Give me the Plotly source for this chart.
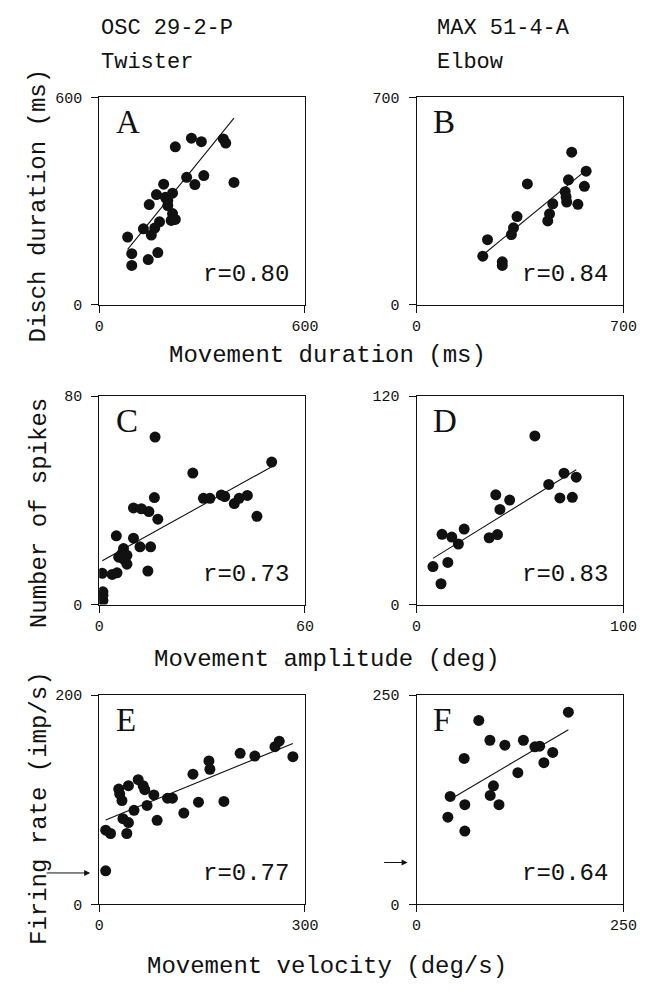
import plotly.graph_objects as go

# ---- Panel A: movement duration (ms) vs discharge duration (ms), OSC 29-2-P
A_x = [222, 269, 298, 362, 369, 305, 255, 279, 393, 188, 167, 214, 193, 146, 200,
       214, 210, 222, 176, 162, 129, 152, 83, 95, 143, 171, 95, 200]
A_y = [457, 482, 472, 480, 468, 374, 369, 348, 354, 349, 319, 323, 311, 290, 287,
       264, 244, 247, 240, 222, 220, 202, 196, 148, 131, 151, 114, 302]
A_fit = (1.224, 59.0)
A_r = "r=0.80"

# ---- Panel B: movement duration (ms) vs discharge duration (ms), MAX 51-4-A
B_x = [525, 574, 514, 375, 568, 503, 508, 546, 461, 450, 444, 340, 328, 321, 240,
       224, 290, 290, 506]
B_y = [515, 451, 422, 408, 400, 382, 347, 339, 341, 307, 283, 298, 260, 237, 220,
       164, 145, 133, 364]
B_fit = (0.819, -15.4)
B_r = "r=0.84"

# ---- Panel C: movement amplitude (deg) vs number of spikes
C_x = [16.3, 50.3, 27.3, 30.4, 32.3, 35.6, 36.6, 39.4, 40.8, 43.2, 46.0, 16.1, 10.0,
       12.3, 14.5, 17.1, 5.0, 10.0, 11.9, 15.0, 7.1, 6.6, 8.1, 7.1, 8.1, 5.7, 14.2,
       5.2, 3.8, 0.9, 1.1, 1.1, 1.1]
C_y = [64.3, 54.7, 50.5, 40.8, 40.8, 42.1, 41.5, 38.8, 40.8, 41.9, 33.9, 41.1, 37.1,
       36.8, 35.7, 32.8, 26.4, 25.5, 22.2, 22.2, 21.5, 19.5, 18.9, 17.5, 15.5, 18.2,
       12.9, 12.2, 11.6, 12.0, 4.9, 1.6, 3.6]
C_fit = (0.730, 16.2)
C_r = "r=0.73"

# ---- Panel D: movement amplitude (deg) vs number of spikes
D_x = [57.2, 71.3, 77.2, 63.9, 69.3, 75.3, 38.3, 45.0, 40.3, 35.1, 39.1, 12.3, 23.0,
       17.0, 20.2, 7.9, 15.1, 11.8]
D_y = [97.1, 75.7, 73.4, 69.2, 61.4, 61.8, 63.2, 60.2, 54.8, 38.5, 40.3, 40.5, 43.5,
       38.9, 34.9, 21.9, 24.3, 12.0]
D_fit = (0.737, 20.8)
D_r = "r=0.83"

# ---- Panel E: movement velocity (deg/s) vs firing rate (imp/s)
E_x = [9.5, 9.5, 16.6, 28.5, 29.9, 33.2, 42.7, 56.9, 64.1, 66.5, 79.7, 34.7, 42.7,
       40.3, 50.8, 69.8, 84.5, 99.7, 106.8, 123.4, 136.7, 144.8, 160.0, 161.4, 181.8,
       205.5, 226.9, 256.3, 262.5, 282.4]
E_y = [32.1, 70.9, 67.7, 110.2, 105.5, 99.2, 113.4, 119.1, 113.4, 109.6, 104.6, 81.9,
       78.1, 67.7, 89.8, 94.5, 80.3, 101.4, 101.4, 87.2, 124.4, 97.6, 137.0, 129.1,
       98.3, 144.3, 141.7, 150.6, 155.9, 141.1]
E_fit = (0.2677, 78.1)
E_r = "r=0.77"
E_baseline = 30

# ---- Panel F: movement velocity (deg/s) vs firing rate (imp/s)
F_x = [183.5, 75.2, 88.6, 106.7, 129.1, 143.0, 148.8, 164.6, 153.9, 57.5, 122.4, 92.9,
       89.0, 99.6, 40.6, 58.3, 37.8, 58.3]
F_y = [229.5, 219.6, 196.0, 190.1, 196.0, 188.1, 188.9, 181.4, 169.2, 174.3, 157.3,
       141.6, 130.1, 119.1, 128.9, 119.1, 104.1, 87.5]
F_fit = (0.582, 101.8)
F_r = "r=0.64"
F_baseline = 50

x_max = [600, 700, 60, 100, 300, 250]
y_max = [600, 700, 80, 120, 200, 250]
letters = ["A", "B", "C", "D", "E", "F"]

col_titles = [["OSC 29-2-P", "Twister"], ["MAX 51-4-A", "Elbow"]]
x_titles = ["Movement duration (ms)", "Movement amplitude (deg)", "Movement velocity (deg/s)"]
y_titles = ["Disch duration (ms)", "Number of spikes", "Firing rate (imp/s)"]

panels = [
    (A_x, A_y, A_fit, A_r, None),
    (B_x, B_y, B_fit, B_r, None),
    (C_x, C_y, C_fit, C_r, None),
    (D_x, D_y, D_fit, D_r, None),
    (E_x, E_y, E_fit, E_r, E_baseline),
    (F_x, F_y, F_fit, F_r, F_baseline),
]

# ---- page geometry (pixels)
W, H = 650, 993
COLS = [(97, 309), (424, 637)]
ROWS = [(92, 303), (396, 608), (700, 913)]
X_TITLE_Y = [355, 664, 976]
Y_TITLE_Y = [202, 515, 815]

def px(x):
    return x / W

def py(y):
    return 1 - y / H

MONO = "Liberation Mono"
SERIF = "Liberation Serif"
INK = "#111111"

fig = go.Figure()
annotations = []

for i, (xs, ys, fit, rtxt, base) in enumerate(panels):
    r, c = divmod(i, 2)
    n = i + 1
    xa = "x" if n == 1 else f"x{n}"
    ya = "y" if n == 1 else f"y{n}"
    x0p, x1p = COLS[c]
    y0p, y1p = ROWS[r]

    fig.add_trace(go.Scatter(
        x=xs, y=ys, mode="markers", xaxis=xa, yaxis=ya,
        marker=dict(size=11, color=INK, line=dict(width=0)),
        showlegend=False, hoverinfo="x+y",
    ))
    slope, icpt = fit
    lx = [min(xs), max(xs)]
    fig.add_trace(go.Scatter(
        x=lx, y=[slope * v + icpt for v in lx], mode="lines",
        xaxis=xa, yaxis=ya, line=dict(color=INK, width=1.1),
        showlegend=False, hoverinfo="skip",
    ))

    axis_common = dict(
        showline=True, linecolor=INK, linewidth=1, mirror=True,
        ticks="outside", ticklen=7, tickwidth=1, tickcolor=INK,
        showgrid=False, zeroline=False,
        tickfont=dict(family=MONO, size=15, color=INK),
    )
    fig.layout[f"xaxis{'' if n == 1 else n}"] = dict(
        axis_common, domain=[px(x0p), px(x1p)], anchor=ya,
        range=[0, x_max[i]], tickvals=[0, x_max[i]], ticklabelstandoff=0,
    )
    fig.layout[f"yaxis{'' if n == 1 else n}"] = dict(
        axis_common, domain=[py(y1p), py(y0p)], anchor=xa,
        range=[0, y_max[i]], tickvals=[0, y_max[i]], ticklabelstandoff=6,
    )

    # panel letter
    annotations.append(dict(
        text=letters[i], xref="paper", yref="paper",
        x=px(x0p + 15), y=py(y0p + 25), xanchor="left", yanchor="middle",
        showarrow=False, font=dict(family=SERIF, size=33, color=INK),
    ))
    # correlation coefficient
    annotations.append(dict(
        text=rtxt, xref="paper", yref="paper",
        x=px(x1p - 14), y=py(y1p - 31), xanchor="right", yanchor="middle",
        showarrow=False, font=dict(family=MONO, size=24, color=INK),
    ))
    # baseline firing-rate arrow
    if base is not None:
        annotations.append(dict(
            x=0, y=base, xref=xa, yref=ya, text="", showarrow=True,
            axref="pixel", ayref="pixel", ax=-54 if c == 0 else -34, ay=0,
            arrowhead=2, arrowsize=1.2, arrowwidth=1, arrowcolor=INK, standoff=9,
        ))

# column headers
for c, (t1, t2) in enumerate(col_titles):
    left = COLS[c][0] + (0 if c == 0 else 19)
    annotations.append(dict(text=t1, xref="paper", yref="paper", x=px(left), y=py(22),
                            xanchor="left", yanchor="middle", showarrow=False,
                            font=dict(family=MONO, size=22, color=INK)))
    annotations.append(dict(text=t2, xref="paper", yref="paper", x=px(left), y=py(56),
                            xanchor="left", yanchor="middle", showarrow=False,
                            font=dict(family=MONO, size=22, color=INK)))

# shared x-axis titles
for t, yc in zip(x_titles, X_TITLE_Y):
    annotations.append(dict(text=t, xref="paper", yref="paper", x=px(332), y=py(yc),
                            xanchor="center", yanchor="middle", showarrow=False,
                            font=dict(family=MONO, size=24, color=INK)))

# shared y-axis titles
for t, yc in zip(y_titles, Y_TITLE_Y):
    annotations.append(dict(text=t, xref="paper", yref="paper", x=px(35), y=py(yc),
                            xanchor="center", yanchor="middle", textangle=-90,
                            showarrow=False, font=dict(family=MONO, size=24, color=INK)))

fig.update_layout(
    width=W, height=H, margin=dict(l=0, r=0, t=0, b=0),
    paper_bgcolor="white", plot_bgcolor="white",
    annotations=annotations,
)

fig.write_html("out.html", config={"displayModeBar": False})
